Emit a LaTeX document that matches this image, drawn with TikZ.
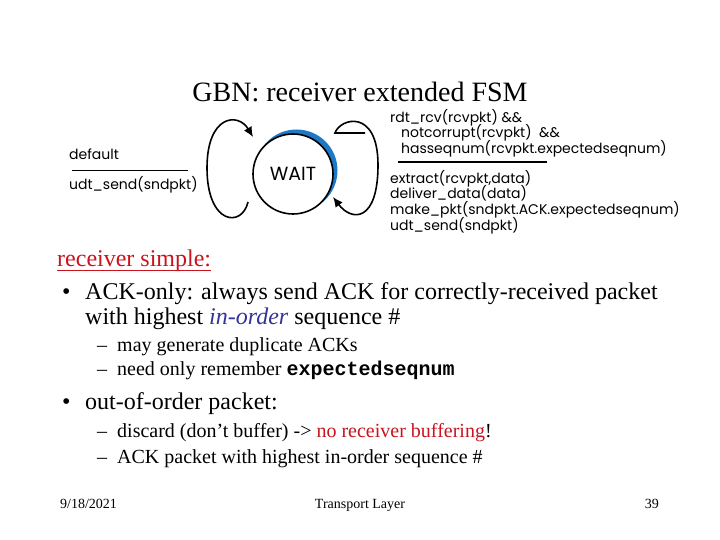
\documentclass[tikz,border=0pt]{standalone}
\usepackage{fontspec}
\setmainfont{Liberation Serif}
\setmonofont{Liberation Mono}
\newfontfamily\fsmfont{Poppins}
\usetikzlibrary{positioning,arrows.meta}
\definecolor{slidered}{RGB}{200,20,30}
\definecolor{inblue}{RGB}{51,51,153}
\definecolor{arcblue}{RGB}{30,120,200}
\tikzset{
  fsmstate/.style={circle, draw, line width=1.6pt, minimum size=80pt, inner sep=0pt,
                   font=\fsmfont\fontsize{19}{22}\selectfont},
  fsmlab/.style={anchor=base west, inner sep=0pt, font=\fsmfont\fontsize{14}{15}\selectfont},
  selfloop/.style={line width=1.6pt, -{Latex[length=10pt,width=9pt]}},
  headtxt/.style={anchor=base, inner sep=0pt, font=\fontsize{28}{32}\selectfont},
  bodytxt/.style={anchor=base west, inner sep=0pt, font=\fontsize{24}{28}\selectfont},
  subtxt/.style={anchor=base west, inner sep=0pt, font=\fontsize{20}{24}\selectfont},
  foottxt/.style={anchor=base, inner sep=0pt, font=\fontsize{14}{16}\selectfont},
}

\begin{document}
\begin{tikzpicture}[x=1pt, y=1pt]
  \useasboundingbox (0,0) rectangle (720,540);
  \node[headtxt] (title) at (360,438) {GBN: receiver extended FSM};
  % state with its shaded rim
  \coordinate (c) at (293,366);
  \begin{scope}
    \clip ([shift={(-70,70)}]c) -- ([shift={(70,-70)}]c) -- ([shift={(90,90)}]c) -- cycle;
    \fill[arcblue, even odd rule] ([shift={(3.5,3.5)}]c) circle[radius=41pt] (c) circle[radius=40pt];
  \end{scope}
  \node[fsmstate] (wait) at (c) {WAIT};
  % self loops
  \coordinate (lin) at (248,338);
  \coordinate (lout) at (253,403);
  \coordinate (rbar) at (365,407);
  \coordinate (rin) at (335,407);
  \coordinate (rout) at (333,343);
  \draw[selfloop] (lin) .. controls (242,312) and (207,315) .. (207,372)
                  .. controls (207,425) and (238,428) .. (lout);
  \draw[selfloop] (rbar) -- (rin) .. controls (340,422) and (378,432) .. (378,375)
                  .. controls (378,318) and (352,318) .. (rout);
  % left transition
  \node[fsmlab] (dflt) at (69,380) {default};
  \node[fsmlab] (dsend) at (69,350) {udt\_send(sndpkt)};
  \draw[line width=0.9pt] (72,370) -- (188,370);
  % right transition
  \node[fsmlab] (g1) at (390,417) {rdt\_rcv(rcvpkt) \&\&};
  \node[fsmlab] (g2) at (401,402) {notcorrupt(rcvpkt) \ \&\&};
  \node[fsmlab] (g3) at (401,386) {hasseqnum(rcvpkt.expectedseqnum)};
  \draw[line width=2.4pt] (398,378) -- (547,378);
  \node[fsmlab] (a1) at (390,356) {extract(rcvpkt,data)};
  \node[fsmlab] (a2) at (390,341) {deliver\_data(data)};
  \node[fsmlab] (a3) at (390,325) {make\_pkt(sndpkt.ACK.expectedseqnum)};
  \node[fsmlab] (a4) at (390,309) {udt\_send(sndpkt)};
  % slide text
  \node[bodytxt, text=slidered] (simple) at (57,273) {receiver simple:};
  \draw[slidered, line width=0.9pt] ([yshift=-3pt]simple.base west) -- ([yshift=-3pt]simple.base east);
  \node[bodytxt] (b1) at (62,240) {•};
  \node[bodytxt] (b1t) at (85,240) {ACK-only: always send ACK for correctly-received packet};
  \node[bodytxt] (b1u) at (85,215) {with highest \textcolor{inblue}{\textit{in-order}} sequence \#};
  \node[subtxt] (d1) at (97,188) {–};
  \node[subtxt] (d1t) at (117,188) {may generate duplicate ACKs};
  \node[subtxt] (d2) at (97,164) {–};
  \node[subtxt] (d2t) at (117,164) {need only remember \texttt{\bfseries expectedseqnum}};
  \node[bodytxt] (b2) at (62,130) {•};
  \node[bodytxt] (b2t) at (85,130) {out-of-order packet:};
  \node[subtxt] (d3) at (97,102) {–};
  \node[subtxt] (d3t) at (117,102) {discard (don’t buffer) -> \textcolor{slidered}{no receiver buffering}!};
  \node[subtxt] (d4) at (97,76) {–};
  \node[subtxt] (d4t) at (117,76) {ACK packet with highest in-order sequence \#};
  % footer
  \node[foottxt, anchor=base west] (date) at (60,31) {9/18/2021};
  \node[foottxt] (layer) at (360,31) {Transport Layer};
  \node[foottxt, anchor=base east] (page) at (659,31) {39};
\end{tikzpicture}
\end{document}
